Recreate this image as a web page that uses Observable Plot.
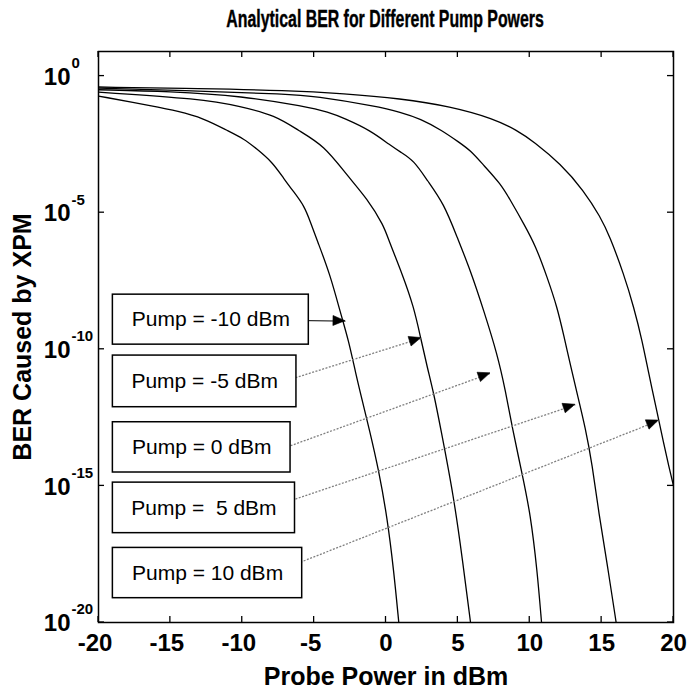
<!DOCTYPE html>
<html>
<head>
<meta charset="utf-8">
<script src="https://cdn.jsdelivr.net/npm/d3@7"></script>
<script src="https://cdn.jsdelivr.net/npm/@observablehq/plot@0.6"></script>
<style>
  body { margin: 0; background: #fff; }
  #title {
    box-sizing: border-box;
    height: 40px; line-height: 34px; padding-top: 6px;
    margin-left: 98px; width: 575px;
    text-align: center; color: #000;
    font: bold 23px "Liberation Sans", Arial, sans-serif;
    -webkit-text-stroke: 0.4px #000;
  }
  #title span { display: inline-block; transform: scaleX(0.69); transform-origin: 50% 50%; white-space: nowrap; }
</style>
</head>
<body>
<div id="title"><span>Analytical BER for Different Pump Powers</span></div>
<div id="chart"></div>
<script>
// Pump powers (dBm), one BER curve each
const pumpLevels = [-10, -5, 0, 5, 10];

// Probe power (dBm) and log10(BER) along each curve
const probeM10 = [-20, -16.15, -14.5, -12.7, -11.05, -9.9, -9.0, -7.9, -7.1, -6.4, -5.7, -5.25, -4.8, -3.9, -3.15, -2.6, -2.1, -1.65, -1.15, -0.5, 0.08, 0.54, 0.89];
const logBerM10 = [-0.73, -1.11, -1.28, -1.54, -1.99, -2.29, -2.66, -3.15, -3.76, -4.25, -4.74, -5.35, -6.0, -7.24, -8.70, -9.68, -10.9, -11.88, -12.95, -14.44, -16.15, -18.1, -20];

const probeM5 = [-20, -12.9, -10.1, -7.7, -6.1, -4.3, -2.7, -1.3, -0.15, 0.2, 1.13, 1.94, 2.4, 2.87, 3.33, 3.79, 4.72, 5.3, 5.88];
const logBerM5 = [-0.59, -0.83, -1.11, -1.44, -1.99, -2.54, -3.64, -4.49, -5.47, -6.03, -7.24, -8.46, -9.56, -10.66, -11.63, -12.86, -15.42, -17.62, -20];

const probe0 = [-20, -15, -10, -5.6, -4, -2.93, -1.08, 0.31, 1.01, 1.94, 2.87, 4.03, 4.95, 5.88, 6.8, 7.74, 8.31, 8.78, 9.47, 10.05, 10.52, 10.82];
const logBer0 = [-0.50, -0.56, -0.73, -1.11, -1.32, -1.54, -1.99, -2.54, -2.78, -3.09, -3.82, -4.67, -5.90, -7.12, -8.58, -10.17, -11.51, -12.86, -14.56, -16.03, -18.11, -20];

const probeP5 = [-20, -12.9, -6.9, -5, -0.6, 1.0, 2.4, 3.9, 5.07, 5.88, 6.8, 7.97, 8.66, 9.59, 10.4, 11.21, 11.91, 12.37, 12.84, 13.3, 13.88, 14.34, 14.81, 15.39, 16.01];
const logBerP5 = [-0.44, -0.55, -0.66, -0.73, -1.11, -1.32, -1.56, -1.99, -2.42, -2.72, -3.27, -3.94, -4.55, -5.41, -6.2, -7.36, -8.46, -9.5, -10.6, -11.63, -12.9, -14.2, -16.03, -17.86, -20];

const probeP10 = [-20, -12.9, -6.9, -2.93, 1.01, 4.49, 7.5, 9.13, 10.28, 12.14, 13.76, 14.92, 15.55, 16.54, 17.24, 17.82, 18.28, 18.86, 19.3, 19.68, 20];
const logBerP10 = [-0.40, -0.46, -0.52, -0.64, -0.82, -1.11, -1.56, -1.99, -2.40, -3.21, -4.19, -5.16, -5.85, -7.24, -8.46, -9.68, -10.9, -12.3, -13.4, -14.3, -15.0];

// Axis ticks
const xTicks = [-20, -15, -10, -5, 0, 5, 10, 15, 20];
const yTickExponents = [0, -5, -10, -15, -20];

// Call-out boxes and their arrows (x in dBm, y as log10 BER)
const calloutLabels = ["Pump = -10 dBm", "Pump = -5 dBm", "Pump = 0 dBm", "Pump =\u00a0 5 dBm", "Pump = 10 dBm"];
const boxLeft = [-19.0, -19.0, -19.0, -19.0, -19.0];
const boxRight = [-5.37, -6.23, -6.64, -6.33, -5.83];
const boxTopExp = [-8.0, -10.23, -12.67, -14.88, -17.27];
const boxBottomExp = [-9.83, -12.12, -14.51, -16.73, -19.11];
const arrowFromX = [-5.74, -6.30, -6.64, -6.30, -6.41];
const arrowFromExp = [-8.95, -11.04, -13.53, -15.48, -17.89];
const arrowToX = [-2.82, 2.47, 7.27, 13.18, 18.98];
const arrowToExp = [-8.97, -9.59, -10.88, -12.03, -12.61];

const curves = [
  [probeM10, logBerM10], [probeM5, logBerM5], [probe0, logBer0], [probeP5, logBerP5], [probeP10, logBerP10]
];
const berTable = pumpLevels.flatMap((pump, i) =>
  curves[i][0].map((p, j) => ({pump, probe: p, ber: 10 ** curves[i][1][j]}))
);
const callouts = calloutLabels.map((label, i) => ({
  label,
  x1: boxLeft[i], x2: boxRight[i],
  top: 10 ** boxTopExp[i], bottom: 10 ** boxBottomExp[i],
  mid: 10 ** ((boxTopExp[i] + boxBottomExp[i]) / 2),
  cx: (boxLeft[i] + boxRight[i]) / 2,
  fx: arrowFromX[i], fy: 10 ** arrowFromExp[i],
  tx: arrowToX[i], ty: 10 ** arrowToExp[i],
  solid: i === 0
}));

const sans = `"Liberation Sans", Arial, sans-serif`;

// Inward box ticks on all four sides
function boxTicks(index, scales, values, dims) {
  const {width, height, marginTop, marginRight, marginBottom, marginLeft} = dims;
  const L = marginLeft, R = width - marginRight, T = marginTop, B = height - marginBottom, k = 6;
  const g = d3.create("svg:g").attr("stroke", "black").attr("stroke-width", 1.3);
  for (const t of xTicks) {
    const px = scales.x(t);
    g.append("line").attr("x1", px).attr("x2", px).attr("y1", B).attr("y2", B - k);
    g.append("line").attr("x1", px).attr("x2", px).attr("y1", T).attr("y2", T + k);
  }
  for (const e of yTickExponents) {
    const py = scales.y(10 ** e);
    g.append("line").attr("y1", py).attr("y2", py).attr("x1", L).attr("x2", L + k);
    g.append("line").attr("y1", py).attr("y2", py).attr("x1", R).attr("x2", R - k);
  }
  return g.node();
}

// Filled arrowheads at the curve end of each call-out arrow
function arrowHeads(index, scales) {
  const g = d3.create("svg:g").attr("fill", "black").attr("stroke", "black").attr("stroke-width", 0.6);
  for (const c of callouts) {
    const x1 = scales.x(c.fx), y1 = scales.y(c.fy), x2 = scales.x(c.tx), y2 = scales.y(c.ty);
    const a = Math.atan2(y2 - y1, x2 - x1), len = 12, w = 5;
    const bx = x2 - len * Math.cos(a), by = y2 - len * Math.sin(a);
    g.append("path").attr("d",
      `M${x2},${y2}L${bx - w * Math.sin(a)},${by + w * Math.cos(a)}L${bx + w * Math.sin(a)},${by - w * Math.cos(a)}Z`);
  }
  return g.node();
}

const bold = {fontWeight: "bold", fontFamily: sans, lineAnchor: "middle"};

const chart = Plot.plot({
  width: 688,
  height: 658,
  marginTop: 11,
  marginRight: 15,
  marginBottom: 76,
  marginLeft: 98,
  style: {background: "#fff", color: "#000", overflow: "visible"},
  x: {domain: [-20, 20], axis: null},
  y: {type: "log", domain: [1e-20, 10 ** 0.9], axis: null},
  marks: [
    Plot.line(berTable, {x: "probe", y: "ber", z: "pump", stroke: "black", strokeWidth: 1.3, curve: "basis", clip: true}),
    Plot.link(callouts.filter(c => !c.solid), {x1: "fx", y1: "fy", x2: "tx", y2: "ty", stroke: "#808080", strokeWidth: 1.3, strokeDasharray: "2,1.5"}),
    Plot.link(callouts.filter(c => c.solid), {x1: "fx", y1: "fy", x2: "tx", y2: "ty", stroke: "black", strokeWidth: 1}),
    Plot.rect(callouts, {x1: "x1", x2: "x2", y1: "top", y2: "bottom", fill: "white", stroke: "black", strokeWidth: 1.5}),
    Plot.text(callouts, {x: "cx", y: "mid", text: "label", fontSize: 21, fontFamily: sans, fill: "black"}),
    arrowHeads,
    Plot.frame({stroke: "black", strokeWidth: 1.5}),
    boxTicks,
    // x tick labels (minus sign hangs left of the digits)
    Plot.text(xTicks.filter(d => d >= 0), {x: d => d, frameAnchor: "bottom", text: d => String(d), dy: 21, fontSize: 24, ...bold, ariaLabel: "x-tick-label"}),
    Plot.text(xTicks.filter(d => d < 0), {x: d => d, frameAnchor: "bottom", text: d => String(d), dy: 21, dx: -3.5, fontSize: 24, ...bold, ariaLabel: "x-tick-label"}),
    // y tick labels: 10 with a raised exponent
    Plot.text(yTickExponents, {y: e => 10 ** e, frameAnchor: "left", text: () => "10", textAnchor: "end", dx: -28, dy: 1, fontSize: 24, ...bold, ariaLabel: "y-tick-base"}),
    Plot.text(yTickExponents, {y: e => 10 ** e, frameAnchor: "left", text: e => String(e), textAnchor: "start", dx: -27, dy: -13, fontSize: 15, ...bold, ariaLabel: "y-tick-exp"}),
    // axis titles
    Plot.text(["Probe Power in dBm"], {frameAnchor: "bottom", textAnchor: "middle", dy: 54, fontSize: 25, ...bold, ariaLabel: "x-title"}),
    Plot.text(["BER Caused by XPM"], {frameAnchor: "left", textAnchor: "middle", dx: -75.5, rotate: -90, fontSize: 25, ...bold})
  ]
});

document.getElementById("chart").append(chart);

// Squeeze the bold axis lettering into a condensed face
const condense = {"x-tick-label": 0.85, "y-tick-base": 0.82, "y-tick-exp": 0.93, "x-title": 0.82};
for (const [label, factor] of Object.entries(condense)) {
  d3.select(chart).selectAll(`g[aria-label="${label}"] text`).each(function () {
    const w = this.getComputedTextLength();
    this.setAttribute("textLength", w * factor);
    this.setAttribute("lengthAdjust", "spacingAndGlyphs");
  });
}
</script>
</body>
</html>
